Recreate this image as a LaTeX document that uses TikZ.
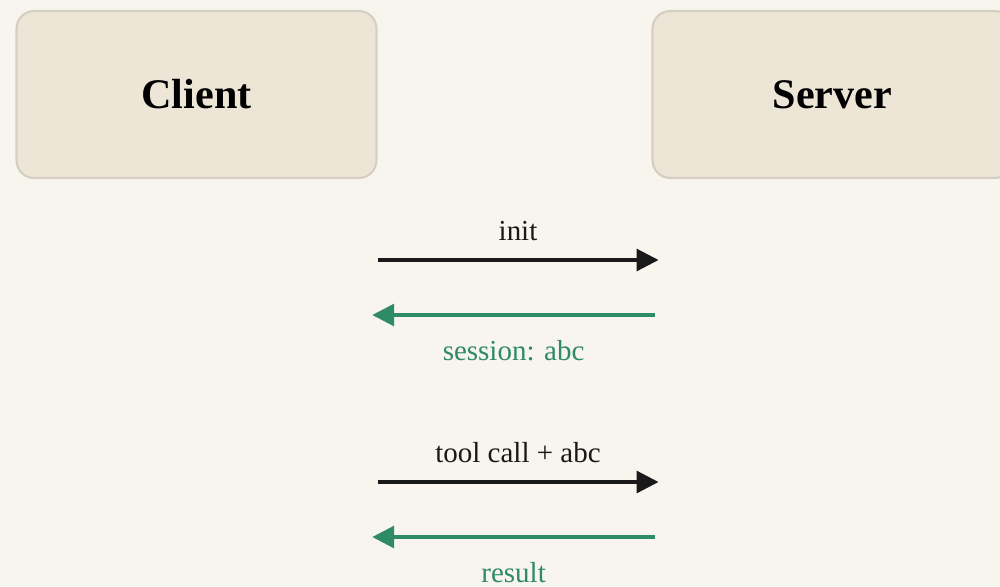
\documentclass[tikz,border=0pt]{standalone}
\usepackage{fontspec}
\setmainfont{Liberation Serif}
\usetikzlibrary{arrows.meta}
\definecolor{paper}{HTML}{F8F5EE}
\definecolor{boxfill}{HTML}{EDE5D5}
\definecolor{boxline}{HTML}{D5CFC3}
\definecolor{reply}{HTML}{2F8A66}

\begin{document}
\begin{tikzpicture}[x=0.02cm,y=-0.02cm,
  party/.style={draw=boxline,line width=1.2pt,fill=boxfill,rounded corners=10pt,
    minimum width=7.2cm,minimum height=3.34cm,font=\fontsize{24}{28}\selectfont\bfseries},
  msg/.style={line width=1.8pt,-{Triangle[length=12.5pt,width=12.5pt]}},
  lbl/.style={font=\fontsize{16.5}{20}\selectfont}]

\fill[paper] (0,0) rectangle (1000,586);
\useasboundingbox (0,0) rectangle (1000,586);

\node[party] (client) at (196.5,94.5) {Client};
\node[party] (server) at (832.5,94.5) {Server};

\foreach \y/\req/\resp in {260/init/session: abc, 482/tool call + abc/result}{
 \coordinate (q\y) at (client.east |- 0,\y);
 \coordinate (r\y) at (server.west |- 0,\y);
 \draw[msg,black!90] (q\y) -- ([xshift=4]r\y) node[lbl,midway,above=6.5pt,black!90]{\req};
 \draw[msg,reply] ([xshift=2]r\y |- 0,\y+55) -- ([xshift=-3]q\y |- 0,\y+55)
   node[lbl,midway,below=10pt,reply]{\resp};
}
\end{tikzpicture}
\end{document}
